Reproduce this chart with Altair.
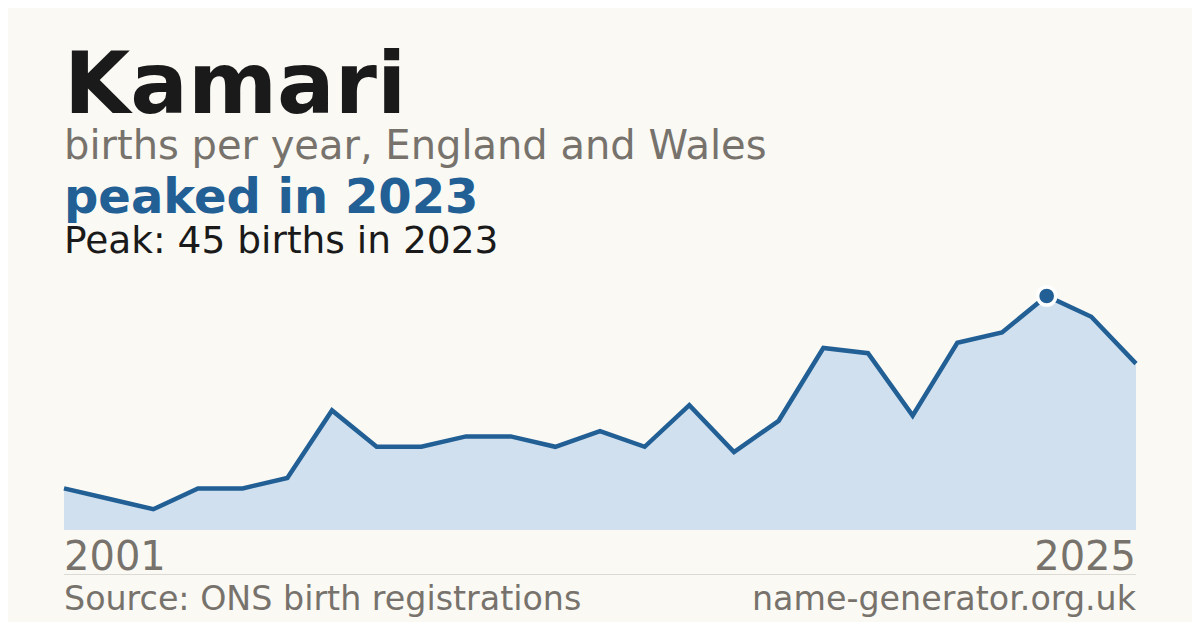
import altair as alt
import pandas as pd

years = [2001, 2002, 2003, 2004, 2005, 2006, 2007, 2008, 2009, 2010, 2011, 2012, 2013,
         2014, 2015, 2016, 2017, 2018, 2019, 2020, 2021, 2022, 2023, 2024, 2025]
births = [8, 6, 4, 8, 8, 10, 23, 16, 16, 18, 18, 16, 19,
          16, 24, 15, 21, 35, 34, 22, 36, 38, 45, 41, 32]

name = "Kamari"
subtitle = "births per year, England and Wales"
headline = "peaked in 2023"
peak_text = "Peak: 45 births in 2023"
source_text = "Source: ONS birth registrations"
site_text = "name-generator.org.uk"

BG = "#faf9f4"
BLUE = "#215f95"
FILL = "#d0e0ef"
GRAY = "#77736c"
DARK = "#1a1a1a"
FONT = "DejaVu Sans"

df = pd.DataFrame({"year": years, "births": births})

xs = alt.Scale(domain=[years[0], years[-1]], nice=False, zero=False)
ys = alt.Scale(domain=[0, max(births)], nice=False, zero=True)
X = alt.X("year:Q", scale=xs, axis=None)
Y = alt.Y("births:Q", scale=ys, axis=None)

base = alt.Chart(df)

area = base.mark_area(color=FILL, opacity=1).encode(x=X, y=Y)
line = base.mark_line(color=BLUE, strokeWidth=4.5, strokeJoin="miter").encode(x=X, y=Y)
peak = base.mark_point(filled=True, shape="circle", size=330, color=BLUE, opacity=1,
                       stroke="white", strokeWidth=3.5).encode(x=X, y=Y).transform_filter(
    alt.datum.births == max(births))


def label(text, y, size, color, weight="normal", align="left", x=None):
    d = pd.DataFrame({"t": [text]})
    enc = dict(text="t:N", y=alt.value(y))
    if x is None:
        enc["x"] = alt.value(0)
    else:
        enc["x"] = alt.X("xv:Q", scale=xs, axis=None)
        d["xv"] = [x]
    return alt.Chart(d).mark_text(
        font=FONT, fontSize=size, color=color, fontWeight=weight,
        align=align, baseline="alphabetic").encode(**enc)


t_name = label(name, -183, 85.5, DARK, "bold")
t_sub = label(subtitle, -137, 40, GRAY)
t_head = label(headline, -83, 48, BLUE, "bold")
t_peak = label(peak_text, -43, 37.5, DARK)
t_y0 = label(str(years[0]), 274, 40, GRAY, align="left", x=years[0])
t_y1 = label(str(years[-1]), 274, 40, GRAY, align="right", x=years[-1])
t_src = label(source_text, 314, 33.3, GRAY)
t_site = label(site_text, 314, 33.3, GRAY, align="right", x=years[-1])

sep = alt.Chart(pd.DataFrame({"a": [years[0]], "b": [years[-1]]})).mark_rule(
    color="#dcdad4", strokeWidth=1).encode(
    x=alt.X("a:Q", scale=xs, axis=None), x2="b:Q", y=alt.value(278.5))

chart = alt.layer(area, line, peak, sep, t_name, t_sub, t_head, t_peak,
                  t_y0, t_y1, t_src, t_site).properties(
    width=1072, height=234,
    autosize=alt.AutoSizeParams(type="none"),
    padding={"left": 56, "top": 288, "right": 56, "bottom": 92},
    background=BG,
).configure_view(stroke=None)

chart.save("out.html", embed_options={"renderer": "svg", "actions": False})
